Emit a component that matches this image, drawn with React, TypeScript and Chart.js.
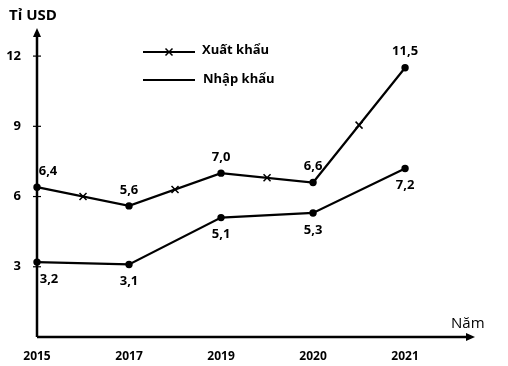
import React, { useEffect, useRef } from "react";
import { Chart, registerables } from "chart.js";
Chart.register(...registerables);

const years = ["2015", "2017", "2019", "2020", "2021"];
const exportValues = [6.4, 5.6, 7.0, 6.6, 11.5];
const importValues = [3.2, 3.1, 5.1, 5.3, 7.2];
const yTicks = [3, 6, 9, 12];
const exportLabel = "Xuất khẩu";
const importLabel = "Nhập khẩu";
const yTitle = "Tỉ USD";
const xTitle = "Năm";

const FONT = "'Open Sans', Lato, sans-serif";
const fmt = (v: number) => v.toFixed(1).replace(".", ",");

function drawCross(ctx: CanvasRenderingContext2D, x: number, y: number, s: number) {
  ctx.beginPath();
  ctx.moveTo(x - s, y - s);
  ctx.lineTo(x + s, y + s);
  ctx.moveTo(x + s, y - s);
  ctx.lineTo(x - s, y + s);
  ctx.stroke();
}

function arrow(ctx: CanvasRenderingContext2D, x: number, y: number, dir: "up" | "right") {
  ctx.beginPath();
  if (dir === "up") {
    ctx.moveTo(x, y);
    ctx.lineTo(x - 4, y + 9);
    ctx.lineTo(x + 4, y + 9);
  } else {
    ctx.moveTo(x, y);
    ctx.lineTo(x - 9, y - 4);
    ctx.lineTo(x - 9, y + 4);
  }
  ctx.closePath();
  ctx.fill();
}

const decorations = {
  id: "decorations",
  afterDatasetsDraw(chart: any) {
    const ctx: CanvasRenderingContext2D = chart.ctx;
    const { left, right, top, bottom } = chart.chartArea;
    const ys = chart.scales.y;
    ctx.save();
    ctx.strokeStyle = "#000";
    ctx.fillStyle = "#000";
    // axes
    ctx.lineWidth = 2.5;
    ctx.beginPath();
    ctx.moveTo(left, bottom);
    ctx.lineTo(left, top + 4);
    ctx.moveTo(left, bottom);
    ctx.lineTo(right - 4, bottom);
    ctx.stroke();
    arrow(ctx, left, top, "up");
    arrow(ctx, right, bottom, "right");
    // y tick marks
    ctx.lineWidth = 1.2;
    yTicks.forEach((t) => {
      const py = ys.getPixelForValue(t);
      ctx.beginPath();
      ctx.moveTo(left - 4, py);
      ctx.lineTo(left + 4, py);
      ctx.stroke();
    });
    // cross markers at segment midpoints of export line
    const meta = chart.getDatasetMeta(0);
    ctx.lineWidth = 1.5;
    for (let i = 0; i < meta.data.length - 1; i++) {
      const a = meta.data[i];
      const b = meta.data[i + 1];
      drawCross(ctx, (a.x + b.x) / 2, (a.y + b.y) / 2, 3.5);
    }
    // data labels
    ctx.font = `bold 13px ${FONT}`;
    ctx.textAlign = "center";
    ctx.textBaseline = "middle";
    meta.data.forEach((p: any, i: number) => {
      const dx = i === 0 ? 11 : 0;
      ctx.fillText(fmt(exportValues[i]), p.x + dx, p.y - 16);
    });
    const meta2 = chart.getDatasetMeta(1);
    meta2.data.forEach((p: any, i: number) => {
      const dx = i === 0 ? 12 : 0;
      ctx.fillText(fmt(importValues[i]), p.x + dx, p.y + 17);
    });
    // titles
    ctx.textAlign = "left";
    ctx.font = `bold 15px ${FONT}`;
    ctx.fillText(yTitle, 9, 16);
    ctx.font = `15px ${FONT}`;
    ctx.fillText(xTitle, 451, 324);
    // legend
    ctx.lineWidth = 2;
    ctx.beginPath();
    ctx.moveTo(143, 52);
    ctx.lineTo(195, 52);
    ctx.moveTo(143, 80);
    ctx.lineTo(195, 80);
    ctx.stroke();
    ctx.lineWidth = 1.5;
    drawCross(ctx, 169, 52, 3.5);
    ctx.font = `bold 13px ${FONT}`;
    ctx.fillText(exportLabel, 202, 50);
    ctx.fillText(importLabel, 203, 79);
    ctx.restore();
  },
};

export default function App() {
  const ref = useRef<HTMLCanvasElement>(null);
  useEffect(() => {
    document.body.style.margin = "0";
    const canvas = ref.current!;
    const common = {
      borderColor: "#000",
      backgroundColor: "#000",
      borderWidth: 2.2,
      pointRadius: 2.6,
      pointBackgroundColor: "#000",
      tension: 0,
      clip: false as any,
    };
    const chart = new Chart(canvas, {
      type: "line",
      data: {
        datasets: [
          { label: exportLabel, data: exportValues.map((v, i) => ({ x: i, y: v })), ...common },
          { label: importLabel, data: importValues.map((v, i) => ({ x: i, y: v })), ...common },
        ],
      },
      options: {
        animation: false,
        responsive: false,
        layout: { padding: { top: 28, right: 33, left: 0, bottom: 0 } },
        plugins: { legend: { display: false }, tooltip: { enabled: false } },
        scales: {
          x: {
            type: "linear",
            min: 0,
            max: 4.76,
            grid: { display: false },
            border: { display: false },
            afterFit: (s: any) => {
              s.height = 29;
            },
            afterBuildTicks: (s: any) => {
              s.ticks = years.map((_, i) => ({ value: i }));
            },
            ticks: {
              padding: 4,
              color: "#000",
              font: { family: FONT, size: 12, weight: "bold" },
              callback: (v: any) => years[v] ?? "",
              maxRotation: 0,
              autoSkip: false,
            },
          },
          y: {
            min: 0,
            max: 13.2,
            grid: { display: false },
            border: { display: false },
            afterFit: (s: any) => {
              s.width = 37;
            },
            afterBuildTicks: (s: any) => {
              s.ticks = yTicks.map((v) => ({ value: v }));
            },
            ticks: {
              padding: 8,
              color: "#000",
              font: { family: FONT, size: 13, weight: "bold" },
              callback: (v: any) => String(v),
            },
          },
        },
      },
      plugins: [decorations],
    });
    return () => chart.destroy();
  }, []);
  return <canvas ref={ref} width={508} height={366} style={{ display: "block" }} />;
}
